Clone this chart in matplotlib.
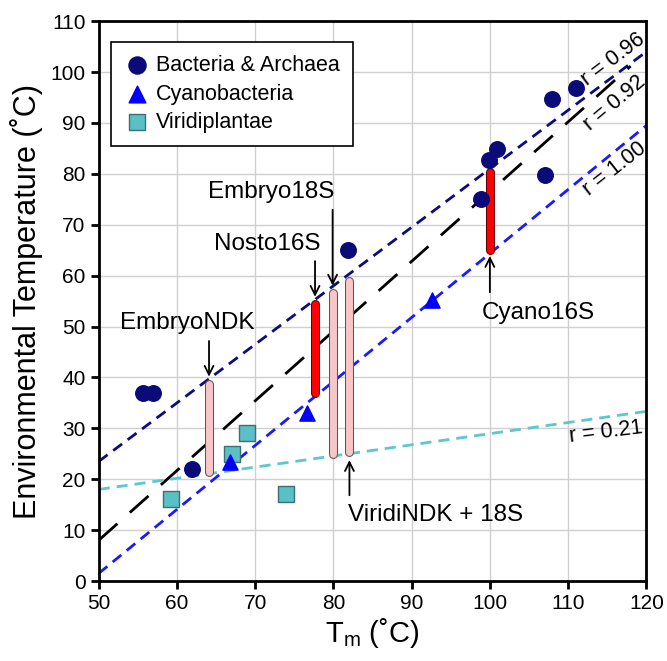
import matplotlib
matplotlib.use("Agg")
from matplotlib import pyplot as plt
import numpy as np

plt.rcParams['font.family'] = ['Liberation Sans', 'DejaVu Sans']

# data points
bact_x = [55.7, 56.9, 61.9, 81.9, 98.9, 99.85, 100.9, 107.1, 108.0, 111.0]
bact_y = [37.0, 37.0, 22.0, 65.0, 75.0, 82.8, 84.8, 79.8, 94.8, 96.8]
cyano_x = [66.8, 76.6, 92.6]
cyano_y = [23.3, 33.0, 55.2]
viridi_x = [59.2, 67.1, 68.9, 74.0]
viridi_y = [16.2, 25.0, 29.0, 17.0]

# fitted lines: value at Tm=50, slope, x end, label
fit_names = ['r = 0.96', 'r = 0.92', 'r = 1.00', 'r = 0.21']
fit_y50 = [23.5, 8.0, 1.5, 18.0]
fit_slope = [1.15, 1.37, 1.257, 0.219]
fit_xend = [120, 118, 120, 120]
fit_lx = [115.8, 115.9, 115.9, 114.9]
fit_ly = [102.5, 93.9, 80.9, 29.3]
fit_rot = [37, 40, 38, 7]

# range bars
bar_x = [64.1, 77.65, 79.9, 82.05, 100.0]
bar_lo = [21.5, 37.0, 25.0, 25.3, 65.0]
bar_hi = [38.8, 54.4, 56.6, 59.0, 80.3]
bar_red = [False, True, False, False, True]

# annotations
ann_text = ['EmbryoNDK', 'Nosto16S', 'Embryo18S', 'ViridiNDK + 18S', 'Cyano16S']
ann_tx = [61.3, 71.5, 72.0, 93.0, 106.2]
ann_ty = [50.7, 66.3, 76.5, 13.0, 52.6]
ann_ax = [64.1, 77.65, 79.9, 82.05, 100.0]
ann_ay = [39.6, 55.3, 57.5, 24.3, 64.4]
ann_from = [47.7, 63.4, 73.5, 16.3, 56.2]

fig = plt.figure(figsize=(6.67, 6.61), dpi=100)
ax = fig.add_axes([0.148, 0.121, 0.821, 0.847])

ax.set_xlim(50, 120)
ax.set_ylim(0, 110)
ax.set_xticks(np.arange(50, 121, 10))
ax.set_yticks(np.arange(0, 111, 10))
ax.grid(True, color='#d0d0d0', linewidth=1.0)
ax.set_axisbelow(True)

line_colors = ['#0c0c80', 'black', '#1a1aff', '#5cc8cc']
line_dash = [(4, 2.5), (9, 6), (4, 2.5), (4, 2.5)]
for i in range(4):
    xs = np.array([50, fit_xend[i]])
    ys = fit_y50[i] + fit_slope[i] * (xs - 50)
    ax.plot(xs, ys, color=line_colors[i], linewidth=2, dashes=line_dash[i], zorder=2)
    ax.text(fit_lx[i], fit_ly[i], fit_names[i], rotation=fit_rot[i], fontsize=15.5,
            ha='center', va='center', rotation_mode='anchor')

# bars as capsules
for i in range(len(bar_x)):
    fc = 'red' if bar_red[i] else '#f7c6c6'
    ec = '#600000' if bar_red[i] else '#6a5050'
    ax.plot([bar_x[i], bar_x[i]], [bar_lo[i], bar_hi[i]], color=ec,
            linewidth=6.5, solid_capstyle='round', zorder=3)
    ax.plot([bar_x[i], bar_x[i]], [bar_lo[i], bar_hi[i]], color=fc,
            linewidth=5, solid_capstyle='round', zorder=3)

ax.scatter(bact_x, bact_y, s=125, marker='o', color='#0a0a78', zorder=4,
           label='Bacteria & Archaea')
ax.scatter(cyano_x, cyano_y, s=120, marker='^', color='#0000ff', zorder=5,
           label='Cyanobacteria')
ax.scatter(viridi_x, viridi_y, s=120, marker='s', color='#5bbfc6',
           edgecolors='#3d7074', linewidths=1, zorder=4, label='Viridiplantae')

for i in range(len(ann_text)):
    ax.annotate('', xy=(ann_ax[i], ann_ay[i]), xytext=(ann_ax[i], ann_from[i]),
                arrowprops=dict(arrowstyle='->', color='black', lw=1.3,
                                mutation_scale=16), zorder=5)
    ax.text(ann_tx[i], ann_ty[i], ann_text[i], fontsize=17.5,
            ha='center', va='center', zorder=5)

leg = ax.legend(loc='upper left', bbox_to_anchor=(0.022, 0.9625), borderaxespad=0,
                fontsize=15.5, frameon=True, fancybox=False, edgecolor='black',
                handletextpad=0.3, borderpad=0.6, labelspacing=0.35,
                handlelength=1.2, markerscale=1.1)
leg.get_frame().set_linewidth(1.2)
leg.get_frame().set_facecolor('white')
leg.get_frame().set_alpha(1)

for s in ax.spines.values():
    s.set_linewidth(2)
ax.tick_params(axis='both', direction='out', length=6, width=2,
               labelsize=15)
ax.set_xlabel('T$_\\mathregular{m}$ (˚C)', fontsize=21, labelpad=2)
ax.set_ylabel('Environmental Temperature (˚C)', fontsize=22, labelpad=5)

fig.savefig('out.png', dpi=100)
